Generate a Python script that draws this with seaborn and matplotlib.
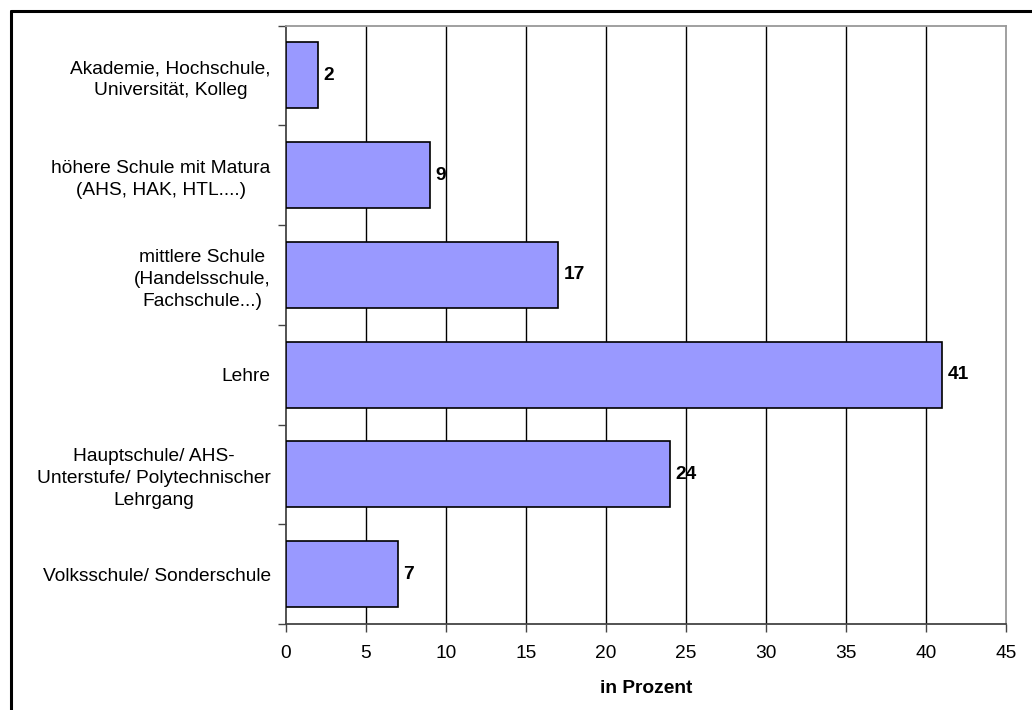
import matplotlib
matplotlib.use("Agg")
import matplotlib.pyplot as plt
from matplotlib.lines import Line2D
from matplotlib.ticker import FixedLocator
import seaborn as sns
import pandas as pd

# Highest completed education, share in percent
categories = [
    "Akademie, Hochschule,\nUniversität, Kolleg",
    "höhere Schule mit Matura\n(AHS, HAK, HTL....)",
    "mittlere Schule\n(Handelsschule,\nFachschule...)",
    "Lehre",
    "Hauptschule/ AHS-\nUnterstufe/ Polytechnischer\nLehrgang",
    "Volksschule/ Sonderschule",
]
values = [2, 9, 17, 41, 24, 7]
x_ticks = [0, 5, 10, 15, 20, 25, 30, 35, 40, 45]
x_label = "in Prozent"

df = pd.DataFrame({"Ausbildung": categories, "Prozent": values})

sns.set_theme(style="white")
plt.rcParams["font.family"] = ["Liberation Sans", "DejaVu Sans"]
plt.rcParams["text.color"] = "black"

FS = 13.8

fig = plt.figure(figsize=(10.32, 7.10), dpi=100)
ax = fig.add_axes([286 / 1032, 1 - 624 / 710, (1006 - 286) / 1032, (624 - 25.5) / 710])

sns.barplot(data=df, x="Prozent", y="Ausbildung", orient="h", order=categories,
            color="#9999FF", saturation=1, width=0.66,
            edgecolor="black", linewidth=1.2, ax=ax, zorder=3)

ax.set_xlim(0, 45)
ax.set_ylim(len(categories) - 0.5, -0.5)
ax.set_xticks(x_ticks)
ax.set_xticklabels([str(t) for t in x_ticks], fontsize=FS, color="black")

# vertical gridlines
for t in x_ticks[1:-1]:
    ax.axvline(t, color="black", lw=1.0, zorder=1)

# value labels
for i, v in enumerate(values):
    ax.text(v + 0.35, i, str(v), ha="left", va="center",
            fontsize=FS, fontweight="bold", color="black")

# category labels with ticks between categories
ax.tick_params(axis="y", which="major", length=0, pad=11, labelsize=FS, labelcolor="black")
for lbl in ax.get_yticklabels():
    lbl.set_multialignment("center")
    lbl.set_linespacing(1.38)
ax.yaxis.set_minor_locator(FixedLocator([i - 0.5 for i in range(len(categories) + 1)]))
ax.tick_params(axis="y", which="minor", left=True, length=6, width=1.0, color="#444444", direction="out")
ax.tick_params(axis="x", which="major", bottom=True, length=6, width=1.0, color="#444444",
               direction="out", pad=9, labelcolor="black")

ax.set_ylabel("")
ax.set_xlabel(x_label, fontsize=FS, fontweight="bold", labelpad=13, color="black")

for side in ["left", "bottom"]:
    ax.spines[side].set_color("#444444")
    ax.spines[side].set_linewidth(1.3)
for side in ["top", "right"]:
    ax.spines[side].set_visible(True)
    ax.spines[side].set_color("#999999")
    ax.spines[side].set_linewidth(1.3)

# outer frame (top and left edges)
yf = 1 - 10.5 / 710
xf = 10.5 / 1032
fig.add_artist(Line2D([xf, 1], [yf, yf], transform=fig.transFigure, color="black", lw=2.2))
fig.add_artist(Line2D([xf, xf], [0, yf], transform=fig.transFigure, color="black", lw=2.2))

fig.savefig("out.png", dpi=100, facecolor="white")
